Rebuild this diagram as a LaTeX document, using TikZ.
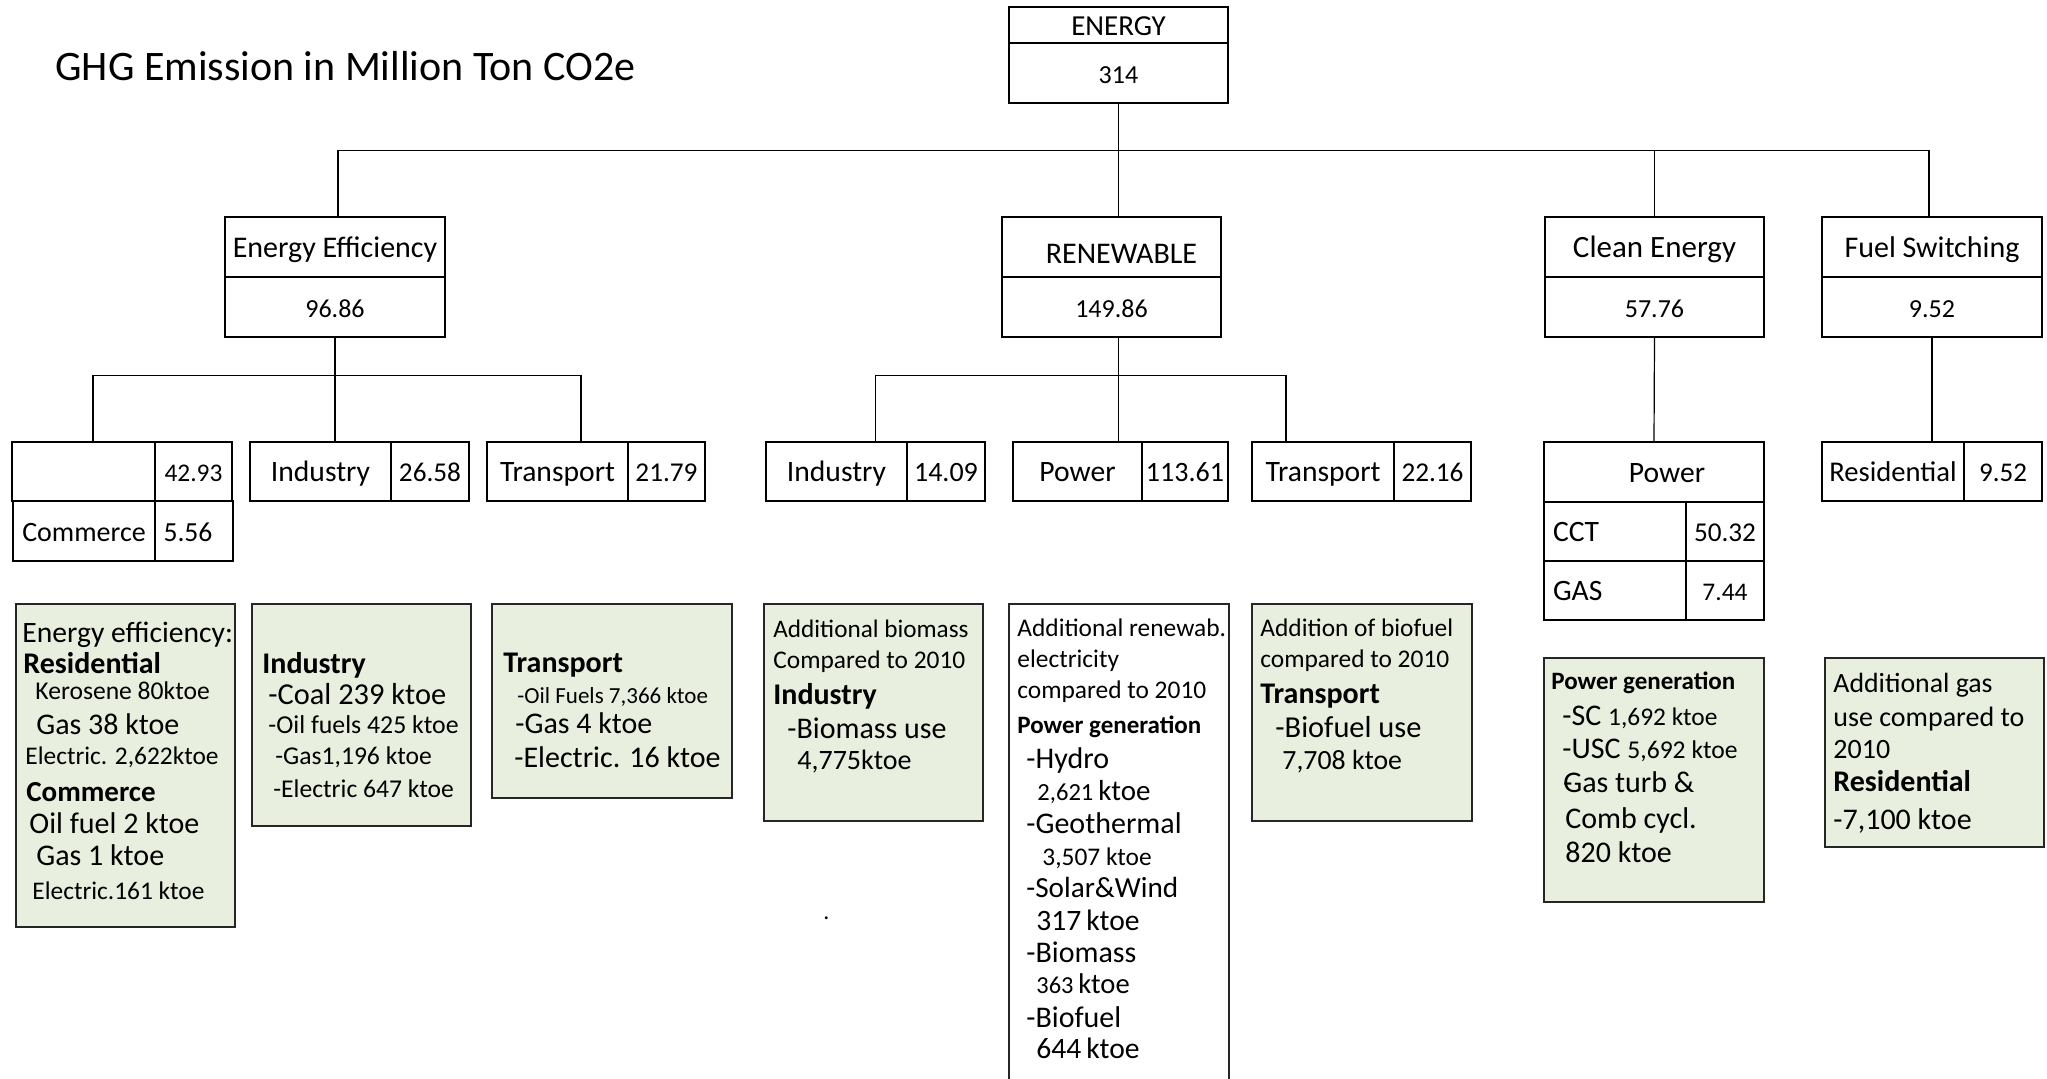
\documentclass[tikz,border=0pt]{standalone}
\usepackage{fontspec}
\setmainfont{Carlito}
\usetikzlibrary{calc}
\definecolor{gbfill}{RGB}{232,239,222}
\newcommand\myfz[1]{\fontsize{#1}{#1}\selectfont}
\begin{document}
\begin{tikzpicture}[x=0.5pt,y=-0.5pt,
  cell/.style={draw, line width=0.75pt, inner sep=0pt, text height=10pt, text depth=0pt, font=\myfz{14.5}},
  num/.style={cell, font=\myfz{13}},
  gbox/.style={draw=black!85, line width=0.75pt, fill=gbfill, inner sep=0pt},
  wbox/.style={draw=black!85, line width=0.75pt, fill=white, inner sep=0pt},
  conn/.style={line width=0.6pt},
  tl/.style={anchor=base west, inner sep=0pt},
]
\path[use as bounding box, clip] (0,0) rectangle (2047,1078);

% title
\node[tl, font=\myfz{21}] (title) at (55,80) {GHG Emission in Million Ton CO2e};

% top level
\node[cell, minimum width=109.5pt, minimum height=18pt] (energyT) at (1118.5,25) {ENERGY};
\node[num, minimum width=109.5pt, minimum height=30pt] (energyV) at (1118.5,73) {314};

% second level
\node[cell, font=\myfz{15}, minimum width=110pt, minimum height=30pt] (eeT) at (335,247) {Energy Efficiency};
\node[num, minimum width=110pt, minimum height=30pt] (eeV) at (335,307) {96.86};
\node[cell, font=\myfz{15}, minimum width=109.5pt, minimum height=30pt] (renT) at (1111.5,247) {\hspace*{10pt}\raisebox{-3pt}{RENEWABLE}};
\node[num, minimum width=109.5pt, minimum height=30pt] (renV) at (1111.5,307) {149.86};
\node[cell, font=\myfz{15.5}, minimum width=109.5pt, minimum height=30pt] (ceT) at (1654.5,247) {Clean Energy};
\node[num, minimum width=109.5pt, minimum height=30pt] (ceV) at (1654.5,307) {57.76};
\node[cell, font=\myfz{15}, minimum width=110pt, minimum height=30pt] (fsT) at (1932,247) {Fuel Switching};
\node[num, minimum width=110pt, minimum height=30pt] (fsV) at (1932,307) {9.52};

% third level
\node[cell, minimum width=71.5pt, minimum height=29.5pt] (g1a) at (83.5,471.5) {};
\node[num, font=\myfz{12.7}, minimum width=38.5pt, minimum height=29.5pt] (g1b) at (193.5,471.5) {42.93};
\node[cell, font=\myfz{14}, minimum width=71pt, minimum height=30pt] (g1c) at (84,531) {Commerce};
\node[num, font=\myfz{13.8}, minimum width=39pt, minimum height=30pt] (g1d) at (194,531) {5.56\hspace*{6pt}};

\node[cell, font=\myfz{14.8}, minimum width=70.5pt, minimum height=29.5pt] (eeInd) at (320.5,471.5) {Industry};
\node[num, font=\myfz{13.6}, minimum width=39pt, minimum height=29.5pt] (eeIndV) at (430,471.5) {26.58};
\node[cell, font=\myfz{14.8}, minimum width=70.5pt, minimum height=29.5pt] (eeTr) at (557.5,471.5) {Transport};
\node[num, font=\myfz{13.6}, minimum width=38.5pt, minimum height=29.5pt] (eeTrV) at (666.5,471.5) {21.79};

\node[cell, font=\myfz{14.8}, minimum width=70.5pt, minimum height=29.5pt] (reInd) at (836.5,471.5) {Industry};
\node[num, font=\myfz{14}, minimum width=39pt, minimum height=29.5pt] (reIndV) at (946,471.5) {14.09};
\node[cell, font=\myfz{14.8}, minimum width=64.5pt, minimum height=29.5pt] (rePw) at (1077.5,471.5) {Power};
\node[num, font=\myfz{14}, minimum width=43pt, minimum height=29.5pt] (rePwV) at (1185,471.5) {113.61};
\node[cell, font=\myfz{14.8}, minimum width=71pt, minimum height=29.5pt] (reTr) at (1323,471.5) {Transport};
\node[num, font=\myfz{13.6}, minimum width=38.5pt, minimum height=29.5pt] (reTrV) at (1432.5,471.5) {22.16};

\node[cell, font=\myfz{14.8}, minimum width=110pt, minimum height=30pt] (cePw) at (1654,472) {\hspace*{13pt}Power};
\node[cell, font=\myfz{14.8}, minimum width=71pt, minimum height=29.5pt, text width=62pt, align=left] (cct) at (1615,531.5) {CCT};
\node[num, font=\myfz{13.6}, minimum width=39pt, minimum height=29.5pt] (cctV) at (1725,531.5) {50.32};
\node[cell, font=\myfz{14.8}, minimum width=71pt, minimum height=29.5pt, text width=62pt, align=left] (gas) at (1615,590.5) {GAS};
\node[num, font=\myfz{12.7}, minimum width=39pt, minimum height=29.5pt] (gasV) at (1725,590.5) {7.44};

\node[cell, font=\myfz{14.3}, minimum width=71pt, minimum height=29.5pt] (fsRes) at (1893,471.5) {Residential};
\node[num, font=\myfz{13.5}, minimum width=39pt, minimum height=29.5pt] (fsResV) at (2003,471.5) {9.52};

% connectors
\draw[conn] (energyV.south) -- (energyV.south |- renT.north);
\draw[conn] ($(eeT.north)+(3,0)$) -- ++(0,-66) -| ($(fsT.north)+(-3,0)$);
\draw[conn] (ceT.north) -- ++(0,-66);
\draw[conn] (eeV.south) -- (eeV.south |- eeInd.north);
\draw[conn] ($(g1a.north)+(9.5,0)$) -- ++(0,-66) -| ($(eeTr.north)+(23.5,0)$);
\draw[conn] (renV.south -| energyV.south) -- (energyV.south |- rePw.north);
\draw[conn] ($(reInd.north)+(39,0)$) -- ++(0,-66) -| ($(reTr.north)+(-37,0)$);
\draw[conn] (ceV.south) -- (cePw.north);
\draw[conn] (fsV.south) -- (fsV.south |- fsRes.north);

% detail boxes
\node[gbox, minimum width=109.5pt, minimum height=161.5pt] (gb1) at (125.5,765.5) {};
\node[gbox, minimum width=109.5pt, minimum height=111pt] (gb2) at (361.5,715) {};
\node[gbox, minimum width=120pt, minimum height=97pt] (gb3) at (612,701) {};
\node[gbox, minimum width=109.5pt, minimum height=108.5pt] (gb4) at (873.5,712.5) {};
\node[wbox, minimum width=110pt, minimum height=248pt] (gb5) at (1119,852) {};
\node[gbox, minimum width=110pt, minimum height=108.5pt] (gb6) at (1362,712.5) {};
\node[gbox, minimum width=110pt, minimum height=122pt] (gb7) at (1654,780) {};
\node[gbox, minimum width=109.5pt, minimum height=94.5pt] (gb8) at (1934.5,752.5) {};

% box 1
\node[tl, font=\myfz{14.8}] (b1l1) at (22,642) {Energy efficiency:};
\node[tl, font=\myfz{15}\bfseries] (b1l2) at (23,673) {Residential};
\node[tl, font=\myfz{12.8}] (b1l3) at (35,699) {Kerosene 80ktoe};
\node[tl, font=\myfz{15}] (b1l4) at (36,734) {Gas 38 ktoe};
\node[tl, font=\myfz{12.7}] (b1l5) at (25,764) {Electric. 2,622ktoe};
\node[tl, font=\myfz{14.5}\bfseries] (b1l6) at (26,801) {Commerce};
\node[tl, font=\myfz{15}] (b1l7) at (29,833) {Oil fuel 2 ktoe};
\node[tl, font=\myfz{15}] (b1l8) at (36,865) {Gas 1 ktoe};
\node[tl, font=\myfz{12.7}] (b1l9) at (32,899) {Electric.161 ktoe};

% box 2
\node[tl, font=\myfz{15}\bfseries] (b2l1) at (262,673) {Industry};
\node[tl, font=\myfz{15.2}] (b2l2) at (268,704) {-Coal 239 ktoe};
\node[tl, font=\myfz{12.9}] (b2l3) at (268,733) {-Oil fuels 425 ktoe};
\node[tl, font=\myfz{12.8}] (b2l4) at (275,764) {-Gas1,196 ktoe};
\node[tl, font=\myfz{12.8}] (b2l5) at (273,797) {-Electric 647 ktoe};

% box 3
\node[tl, font=\myfz{15}\bfseries] (b3l1) at (503,672) {Transport};
\node[tl, font=\myfz{11.5}] (b3l2) at (517,703) {-Oil Fuels 7,366 ktoe};
\node[tl, font=\myfz{15}] (b3l3) at (515,733) {-Gas 4 ktoe};
\node[tl, font=\myfz{15}] (b3l4) at (514,767) {-Electric. 16 ktoe};

% box 4
\node[tl, font=\myfz{12.6}] (b4l1) at (773,637) {Additional biomass};
\node[tl, font=\myfz{12.7}] (b4l2) at (773,668) {Compared to 2010};
\node[tl, font=\myfz{15}\bfseries] (b4l3) at (773,704) {Industry};
\node[tl, font=\myfz{15}] (b4l4) at (787,738) {-Biomass use};
\node[tl, font=\myfz{14}] (b4l5) at (797,769) {4,775ktoe};
\node[tl, font=\myfz{12}] (dot) at (823,919) {.};

% box 5
\node[tl, font=\myfz{12.7}] (b5l1) at (1017,636) {Additional renewab.};
\node[tl, font=\myfz{12.7}] (b5l2) at (1017,667) {electricity};
\node[tl, font=\myfz{12.7}] (b5l3) at (1017,698) {compared to 2010};
\node[tl, font=\myfz{12.5}\bfseries] (b5l4) at (1017,733) {Power generation};
\node[tl, font=\myfz{15}] (b5l5) at (1026,768) {-Hydro};
\node[tl, font=\myfz{14.5}] (b5l6) at (1037,800) {{\myfz{12.3}2,621}\,ktoe};
\node[tl, font=\myfz{15}] (b5l7) at (1026,833) {-Geothermal};
\node[tl, font=\myfz{12.7}] (b5l8) at (1042,865) {3,507 ktoe};
\node[tl, font=\myfz{14.6}] (b5l9) at (1026,897) {-Solar\&Wind};
\node[tl, font=\myfz{14.8}] (b5l10) at (1036,930) {317\,ktoe};
\node[tl, font=\myfz{15}] (b5l11) at (1026,962) {-Biomass};
\node[tl, font=\myfz{14.3}] (b5l12) at (1036,993) {{\myfz{12.2}363}\,ktoe};
\node[tl, font=\myfz{15}] (b5l13) at (1026,1027) {-Biofuel};
\node[tl, font=\myfz{14.8}] (b5l14) at (1036,1058) {644\,ktoe};

% box 6
\node[tl, font=\myfz{12.7}] (b6l1) at (1260,636) {Addition of biofuel};
\node[tl, font=\myfz{12.7}] (b6l2) at (1260,667) {compared to 2010};
\node[tl, font=\myfz{15}\bfseries] (b6l3) at (1260,703) {Transport};
\node[tl, font=\myfz{15.2}] (b6l4) at (1275,737) {-Biofuel use};
\node[tl, font=\myfz{13.9}] (b6l5) at (1282,769) {7,708 ktoe};

% box 7
\node[tl, font=\myfz{12.5}\bfseries] (b7l1) at (1551,689) {Power generation};
\node[tl, font=\myfz{15}] (b7l2) at (1562,725) {-SC {\myfz{12.7}1,692 ktoe}};
\node[tl, font=\myfz{15}] (b7l3) at (1562,758) {-USC {\myfz{12.8}5,692 ktoe}};
\node[tl, font=\myfz{15}] (b7l4) at (1563,792) {\rlap{-}Gas turb \&};
\node[tl, font=\myfz{15}] (b7l5) at (1565,828) {Comb cycl.};
\node[tl, font=\myfz{15}] (b7l6) at (1565,862) {820 ktoe};

% box 8
\node[tl, font=\myfz{13.9}] (b8l1) at (1833,692) {Additional gas};
\node[tl, font=\myfz{14}] (b8l2) at (1833,726) {use compared to};
\node[tl, font=\myfz{14}] (b8l3) at (1833,758) {2010};
\node[tl, font=\myfz{15}\bfseries] (b8l4) at (1833,791) {Residential};
\node[tl, font=\myfz{15}] (b8l5) at (1833,829) {-7,100 ktoe};
\end{tikzpicture}
\end{document}
